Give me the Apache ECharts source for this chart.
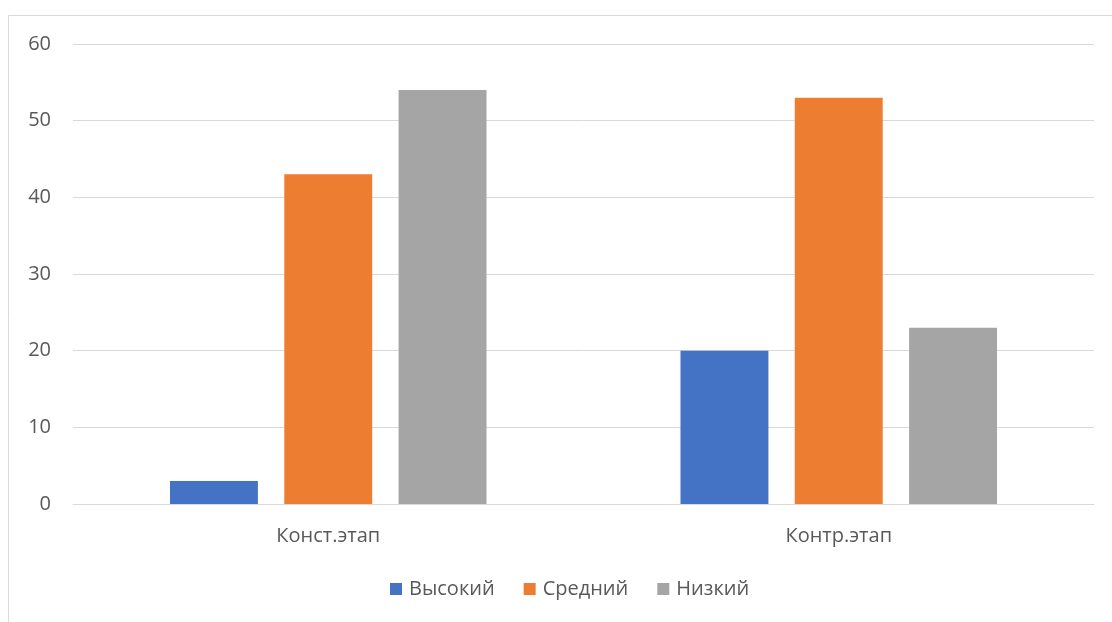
<!DOCTYPE html>
<html>
<head>
<meta charset="utf-8">
<script src="https://cdn.jsdelivr.net/npm/echarts@6/dist/echarts.min.js"></script>
<style>
  html, body { margin: 0; padding: 0; background: #fff; }
  #chart { width: 1112px; height: 622px; }
</style>
</head>
<body>
<div id="chart"></div>
<script>
// данные диаграммы
const categories = ['Конст.этап', 'Контр.этап'];
const seriesNames = ['Высокий', 'Средний', 'Низкий'];
const vysokiy = [3, 20];
const sredniy = [43, 53];
const nizkiy = [54, 23];
const colors = ['#4472c4', '#ed7d31', '#a5a5a5'];

const chart = echarts.init(document.getElementById('chart'));
const font = '"Open Sans", "Liberation Sans", sans-serif';

chart.setOption({
  animation: false,
  textStyle: { fontFamily: font },
  graphic: [{
    type: 'rect',
    shape: { x: 8.5, y: 15.5, width: 1200, height: 700 },
    style: { fill: 'none', stroke: '#d9d9d9', lineWidth: 1 },
    silent: true
  }],
  grid: { left: 73, right: 18, top: 44, bottom: 118 },
  legend: {
    bottom: 18,
    left: 385,
    itemWidth: 12,
    itemHeight: 12,
    itemGap: 29,
    icon: 'rect',
    textStyle: { fontSize: 20, color: '#595959', fontFamily: font, padding: [0, 0, 0, 2] },
    data: seriesNames
  },
  xAxis: {
    type: 'category',
    data: categories,
    axisTick: { show: false },
    axisLine: { lineStyle: { color: '#d9d9d9', width: 1 } },
    axisLabel: { fontSize: 20, color: '#595959', margin: 22, fontFamily: font }
  },
  yAxis: {
    type: 'value',
    min: 0,
    max: 60,
    interval: 10,
    axisLine: { show: false },
    axisTick: { show: false },
    splitLine: { lineStyle: { color: '#d9d9d9', width: 1 } },
    axisLabel: { fontSize: 20, color: '#595959', margin: 22, fontFamily: font }
  },
  series: [
    { name: seriesNames[0], type: 'bar', data: vysokiy, itemStyle: { color: colors[0] }, barGap: '30%', barCategoryGap: '38%' },
    { name: seriesNames[1], type: 'bar', data: sredniy, itemStyle: { color: colors[1] }, barGap: '30%', barCategoryGap: '38%' },
    { name: seriesNames[2], type: 'bar', data: nizkiy, itemStyle: { color: colors[2] }, barGap: '30%', barCategoryGap: '38%' }
  ]
});
</script>
</body>
</html>
